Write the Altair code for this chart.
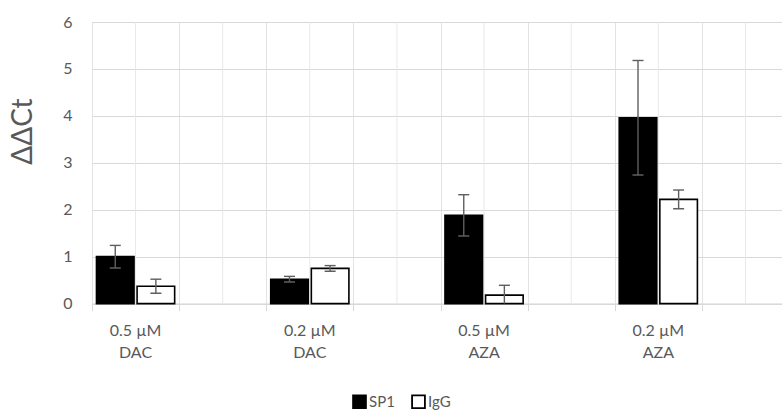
import altair as alt
import pandas as pd

# ---- data ----
categories = ["0.5 µM|DAC", "0.2 µM|DAC", "0.5 µM|AZA", "0.2 µM|AZA"]
series = ["SP1", "IgG"]
sp1_values = [1.00, 0.52, 1.88, 3.96]
sp1_errors = [0.24, 0.06, 0.44, 1.22]
igg_values = [0.37, 0.75, 0.18, 2.22]
igg_errors = [0.15, 0.06, 0.21, 0.20]
y_ticks = [0, 1, 2, 3, 4, 5, 6]

# each labelled group is followed by an empty slot, as in the original chart
slots = []
for i, c in enumerate(categories):
    slots += [c, f"gap{i + 1}"]

rows = []
for name, vals, errs in (("SP1", sp1_values, sp1_errors), ("IgG", igg_values, igg_errors)):
    for c, v, e in zip(categories, vals, errs):
        rows.append({"cat": c, "series": name, "value": v, "lo": v - e, "hi": v + e})
df = pd.DataFrame(rows)
slot_df = pd.DataFrame({"cat": slots})
cat_df = pd.DataFrame({"cat": categories})

FONT = "Lato, DejaVu Sans, sans-serif"
GRAY_TXT = "#595959"
W, H = 690, 281.6

x_scale = alt.Scale(domain=slots, range=[0, 697], paddingInner=0, paddingOuter=0)
x_axis = alt.Axis(
    title=None,
    labels=False,
    tickBand="extent",
    grid=True,
    gridColor="#e3e3e3",
    domainColor="#d9d9d9",
    tickColor="#d9d9d9",
    tickSize=7,
)
y_scale = alt.Scale(domain=[0, 6], nice=False)
y_axis = alt.Axis(
    values=y_ticks,
    title="ΔΔCt",
    titleFontSize=28,
    titleFont=FONT,
    titleColor=GRAY_TXT,
    titleFontWeight="normal",
    titleAngle=270,
    titleX=-69,
    titleY=109,
    titleAlign="center",
    titleBaseline="middle",
    grid=True,
    gridColor="#d9d9d9",
    domain=False,
    ticks=False,
    labelPadding=20,
    labelFontSize=16,
    labelColor=GRAY_TXT,
    labelFont=FONT,
)

X = alt.X("cat:N", scale=x_scale, axis=x_axis)
XO = alt.XOffset("series:N", scale=alt.Scale(domain=series, paddingInner=0.075, paddingOuter=0.11))

center_grid = alt.Chart(slot_df).mark_rule(color="#e8e8e8", strokeWidth=1).encode(
    x=X, y=alt.value(0), y2=alt.value(H)
)

bars = alt.Chart(df).mark_bar(stroke="black", strokeWidth=1.6).encode(
    x=X,
    xOffset=XO,
    y=alt.Y("value:Q", scale=y_scale, axis=y_axis),
    fill=alt.Fill(
        "series:N",
        scale=alt.Scale(domain=series, range=["black", "white"]),
        legend=alt.Legend(
            orient="none",
            legendX=260,
            legendY=372,
            direction="horizontal",
            title=None,
            symbolType="square",
            symbolSize=165,
            symbolStrokeColor="black",
            symbolStrokeWidth=1.8,
            labelFontSize=15,
            labelColor=GRAY_TXT,
            labelFont=FONT,
            labelOffset=2,
            columnPadding=13,
        ),
    ),
)

err_rule = alt.Chart(df).mark_rule(color="#5f5f5f", strokeWidth=1.4, clip=True).encode(
    x=X, xOffset=XO,
    y=alt.Y("lo:Q", scale=y_scale, axis=y_axis),
    y2="hi:Q",
)
cap_hi = alt.Chart(df).mark_point(
    shape="M-1,0L1,0", size=121, color="#5f5f5f", strokeWidth=1.4, filled=False, opacity=1
).encode(x=X, xOffset=XO, y=alt.Y("hi:Q", scale=y_scale, axis=y_axis))
cap_lo = alt.Chart(df).mark_point(
    shape="M-1,0L1,0", size=121, color="#5f5f5f", strokeWidth=1.4, filled=False, opacity=1, clip=True
).encode(x=X, xOffset=XO, y=alt.Y("lo:Q", scale=y_scale, axis=y_axis))

x_labels = alt.Chart(cat_df).mark_text(
    lineBreak="|", baseline="top", align="center", fontSize=16, font=FONT,
    color=GRAY_TXT, lineHeight=22
).encode(x=X, y=alt.value(H + 19), text="cat:N")

chart = (
    alt.layer(center_grid, bars, err_rule, cap_hi, cap_lo, x_labels)
    .properties(
        width=W,
        height=H,
        autosize=alt.AutoSizeParams(type="none"),
        padding={"left": 92, "top": 22, "right": 0, "bottom": 106.4},
    )
    .configure_view(stroke=None)
    .configure(background="white")
)

chart.save("out.html", embed_options={"renderer": "svg", "actions": False})
